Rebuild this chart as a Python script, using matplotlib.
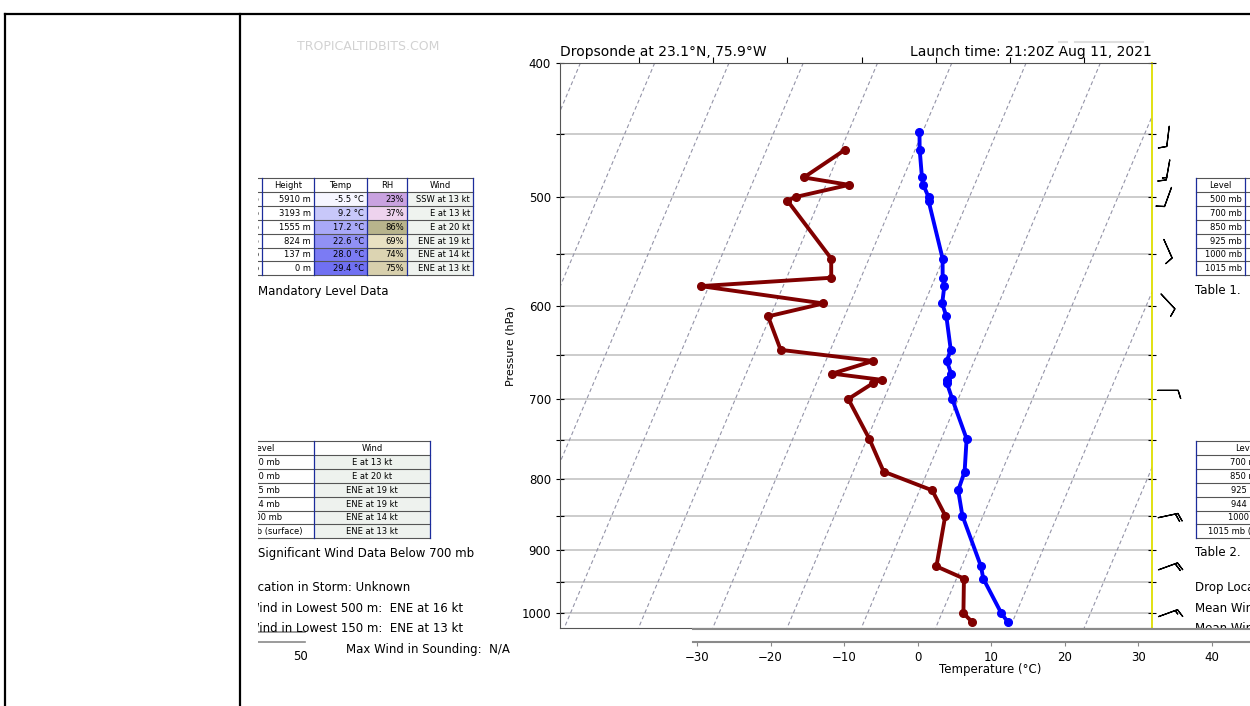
import numpy as np
import matplotlib
matplotlib.use("Agg")
import matplotlib.pyplot as plt
from matplotlib.patches import Rectangle
from matplotlib.ticker import NullLocator, NullFormatter

W, H = 1250, 706

# dropsonde profile: pressure (hPa), temperature and dewpoint (degC)
pres = [449, 462, 484, 490, 500, 503, 554, 572, 580, 597, 610, 645, 657,
        671, 678, 682, 700, 748, 790, 815, 850, 925, 944, 1000, 1015]
temp = [-10.4, -9.4, -7.5, -6.9, -5.5, -5.3, -0.1, 1.0, 1.7, 2.4, 3.7, 6.2, 6.3,
        7.6, 7.4, 7.6, 9.2, 13.4, 15.0, 15.2, 17.2, 22.6, 23.6, 28.0, 29.4]
dewp = [np.nan, -19.4, -23.4, -16.9, -23.4, -24.3, -15.1, -14.0, -31.1, -13.6, -20.3, -16.7, -3.6,
        -8.4, -1.4, -2.4, -4.8, 0.3, 4.1, 11.7, 14.9, 16.6, 21.0, 22.9, 24.6]

# wind barbs
barb_p = [452, 478, 500, 545, 595, 690, 850, 925, 1000]
barb_dir = [187, 190, 200, 156, 137, 90, 78, 70, 70]
barb_spd = [10, 15, 10, 10, 10, 10, 20, 20, 15]

# table 1: mandatory levels
mand_level = ["500 mb", "700 mb", "850 mb", "925 mb", "1000 mb", "1015 mb"]
mand_height = ["5910 m", "3193 m", "1555 m", "824 m", "137 m", "0 m"]
mand_temp = [-5.5, 9.2, 17.2, 22.6, 28.0, 29.4]
mand_rh = [23, 37, 86, 69, 74, 75]
mand_wind = ["SSW at 13 kt", "E at 13 kt", "E at 20 kt", "ENE at 19 kt", "ENE at 14 kt", "ENE at 13 kt"]
temp_fill = ["#f6f6ff", "#c8c8fa", "#a9a9f8", "#9191f5", "#7b7bf4", "#7070f2"]
rh_fill = ["#c9a2e0", "#eed3ee", "#b8b48c", "#e9e1c2", "#dcd4b2", "#d8d0ad"]

# table 2: significant wind below 700 mb
sig_level = ["700 mb", "850 mb", "925 mb", "944 mb", "1000 mb", "1015 mb (surface)"]
sig_wind = ["E at 13 kt", "E at 20 kt", "ENE at 19 kt", "ENE at 19 kt", "ENE at 14 kt", "ENE at 13 kt"]

storm_loc = "Drop Location in Storm: Unknown"
mean500 = "Mean Wind in Lowest 500 m:  ENE at 16 kt"
mean150 = "Mean Wind in Lowest 150 m:  ENE at 13 kt"
max_wind = "Max Wind in Sounding:  N/A"

SKEW = 34.2
P_REF = 1024.0


def skew(t, p):
    return np.asarray(t, float) + SKEW * np.log(P_REF / np.asarray(p, float))


def draw_table(ax, x0, y0, widths, headers, cols, fills, aligns, rh=13.9, fs=6):
    edges = np.concatenate([[x0], x0 + np.cumsum(widths)])
    nrow = len(cols[0]) + 1
    for j in range(len(widths)):
        for i in range(nrow):
            y = y0 + i * rh
            fc = "white" if i == 0 else fills[j][i - 1]
            ax.add_patch(Rectangle((edges[j], y), widths[j], rh, fc=fc, ec="none"))
            txt = headers[j] if i == 0 else cols[j][i - 1]
            if i == 0 or aligns[j] == "center":
                ax.text((edges[j] + edges[j + 1]) / 2, y + rh / 2 + 0.5, txt, ha="center",
                        va="center", fontsize=fs, clip_on=True)
            else:
                ax.text(edges[j + 1] - 3, y + rh / 2 + 0.5, txt, ha="right",
                        va="center", fontsize=fs, clip_on=True)
    for i in range(nrow + 1):
        ax.plot([edges[0], edges[-1]], [y0 + i * rh] * 2, color="#555555", lw=0.8)
    for e in edges:
        ax.plot([e, e], [y0, y0 + nrow * rh], color="#1c2c9c", lw=0.9)


fig = plt.figure(figsize=(W / 100, H / 100), dpi=100)

# page frame in pixel coords
pg = fig.add_axes([0, 0, 1, 1])
pg.set_xlim(0, W)
pg.set_ylim(H, 0)
pg.axis("off")
pg.plot([5, W], [14, 14], color="k", lw=1.6)
pg.plot([5, 5], [14, H], color="k", lw=1.6)
pg.plot([240, 240], [14, H], color="k", lw=1.6)
pg.text(297, 46, "TROPICALTIDBITS.COM", color="#d2d2d2", fontsize=9, va="center")
pg.plot([1059, 1067], [42, 42], color="#dedede", lw=1.5)
pg.plot([1075, 1143], [42, 42], color="#dedede", lw=1.5)

# right hand copies (cut by the page edge)
mand_cols = [mand_level, mand_height, ["%.1f °C" % t for t in mand_temp],
             ["%d%%" % r for r in mand_rh], mand_wind]
mand_fill = [["white"] * 6, ["white"] * 6, temp_fill, rh_fill, ["#eff3ef"] * 6]
mand_head = ["Level", "Height", "Temp", "RH", "Wind"]
mand_w = [49, 52, 53, 40, 66]
sig_cols = [sig_level, sig_wind]
sig_fill = [["white"] * 6, ["#eef2ee"] * 6]

draw_table(pg, 1196, 178, mand_w, mand_head, mand_cols, mand_fill,
           ["right"] * 5)
draw_table(pg, 1196, 441, [101, 116], ["Level", "Wind"], sig_cols, sig_fill,
           ["center", "center"])
for y, s in [(291, "Table 1."), (553, "Table 2."), (587, storm_loc),
             (608, mean500), (628, mean150)]:
    pg.text(1195, y, s, fontsize=8.5, va="center", clip_on=True)

# left panel, clipped at x = 258
lp = fig.add_axes([258 / W, 0, (560 - 258) / W, 1])
lp.set_xlim(258, 560)
lp.set_ylim(H, 0)
lp.axis("off")
draw_table(lp, 213, 178, mand_w, mand_head, mand_cols, mand_fill, ["right"] * 5)
draw_table(lp, 213, 441, [101, 116], ["Level", "Wind"], sig_cols, sig_fill,
           ["center", "center"])
lp.text(258.5, 291, "Mandatory Level Data", fontsize=8.5, va="center", clip_on=True)
lp.text(258.5, 554, "Significant Wind Data Below 700 mb", fontsize=8.5, va="center", clip_on=True)
lp.text(212, 587, storm_loc, fontsize=8.5, va="center", clip_on=True)
lp.text(212, 608, mean500, fontsize=8.5, va="center", clip_on=True)
lp.text(212, 628, mean150, fontsize=8.5, va="center", clip_on=True)
lp.text(346, 650, max_wind, fontsize=8.5, va="center", clip_on=True)
lp.plot([258, 305], [632, 632], color="#8a8a8a", lw=1.2)
lp.plot([258, 305], [642, 642], color="#8a8a8a", lw=1.2)
lp.text(301, 656, "50", fontsize=8.5, ha="center", va="center", clip_on=True)

# main skew-T axes
ax = fig.add_axes([560 / W, 1 - 628 / H, 592 / W, (628 - 63) / H])
ax.set_yscale("log")
ax.set_ylim(1025, 400)
ax.set_xlim(-30.6, 49.1)

for gp in np.arange(450, 1001, 50):
    ax.axhline(gp, color="#c4c4c4", lw=1.2, zorder=1)
pp = np.geomspace(400, 1025, 60)
for t0 in range(-100, 60, 10):
    ax.plot(skew(np.full_like(pp, t0), pp), pp, color="#9494a8", lw=0.8,
            ls=(0, (3.5, 2.5)), zorder=1)

ax.plot(skew(temp, pres), pres, color="#0000ff", lw=2.8, marker="o", ms=5.5, zorder=3)
ax.plot(skew(dewp, pres), pres, color="#800000", lw=2.8, marker="o", ms=5.5, zorder=3)

yt = np.arange(400, 1001, 50)
ax.set_yticks(yt)
ax.set_yticklabels([str(v) if v % 100 == 0 else "" for v in yt])
ax.yaxis.set_minor_locator(NullLocator())
ax.yaxis.set_minor_formatter(NullFormatter())
ax.tick_params(axis="y", direction="inout", length=6, labelsize=8.5, right=True)
ax.set_ylabel("Pressure (hPa)", fontsize=8)
ax.set_xticks(range(-20, 41, 10))
ax.tick_params(axis="x", top=True, bottom=False, labelbottom=False, labeltop=False,
               direction="out", length=4)
for s in ["left", "top", "bottom"]:
    ax.spines[s].set_color("#555555")
ax.spines["right"].set_color("#dede00")
ax.spines["right"].set_linewidth(1.3)
ax.set_title("Dropsonde at 23.1°N, 75.9°W", loc="left", fontsize=10, pad=5)
ax.set_title("Launch time: 21:20Z Aug 11, 2021", loc="right", fontsize=10, pad=5)

# wind barbs next to the profile
bx = fig.add_axes([1152 / W, 1 - 628 / H, 45 / W, (628 - 63) / H])
bx.set_yscale("log")
bx.set_ylim(1025, 400)
bx.set_xlim(0, 45)
bx.axis("off")
rad = np.deg2rad(barb_dir)
u = -np.array(barb_spd) * np.sin(rad)
v = -np.array(barb_spd) * np.cos(rad)
bx.barbs(np.full(len(barb_p), 16.0), barb_p, u, v, length=5.4, pivot="middle",
         lw=0.9, color="k", clip_on=False)

# temperature strip under the plot
sx = fig.add_axes([693 / W, 1 - 642 / H, (W - 693) / W, 13 / H])
sx.set_xlim(-30.54, 45.17)
sx.set_ylim(0, 1)
sx.set_yticks([])
sx.set_xticks(range(-30, 41, 10))
sx.tick_params(axis="x", length=3, labelsize=8.5, color="#888888")
sx.spines["left"].set_visible(False)
sx.spines["right"].set_visible(False)
for s in ["top", "bottom"]:
    sx.spines[s].set_color("#8a8a8a")
    sx.spines[s].set_linewidth(1.5)
fig.text(990 / W, 1 - 670 / H, "Temperature (°C)", ha="center", va="center", fontsize=8.5)

fig.savefig("out.png", dpi=100)
